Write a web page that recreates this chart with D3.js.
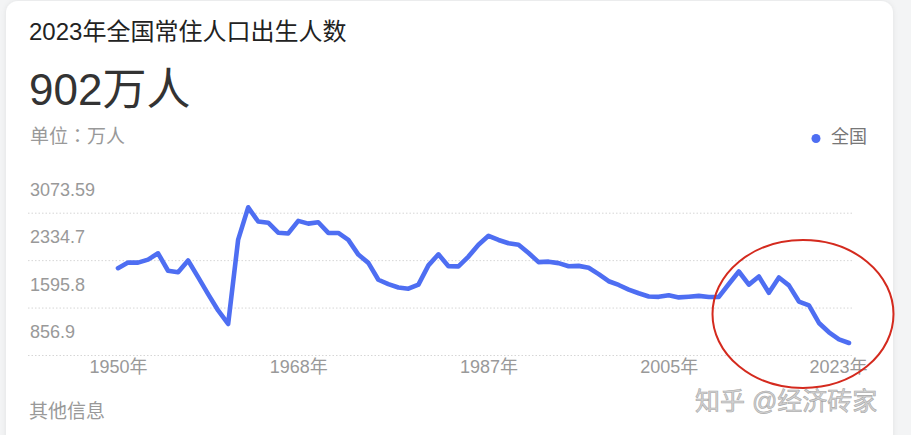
<!DOCTYPE html>
<html><head><meta charset="utf-8">
<script src="https://cdn.jsdelivr.net/npm/d3@7"></script>
<style>
html,body{margin:0;padding:0;background:#f3f4f5;overflow:hidden;}
svg{display:block;}
</style></head><body>
<svg id="chart" width="911" height="435"></svg>
<script>
// ---- text ----
const titleText = "2023年全国常住人口出生人数";
const headlineText = "902万人";
const unitParts = ["单位", "：", "万人"];
const seriesName = "全国";
const footerText = "其他信息";
const watermarkText = "知乎 @经济砖家";

// ---- data (births, 万人) ----
const years = [1950,1951,1952,1953,1954,1955,1956,1957,1958,1959,
  1960,1961,1962,1963,1964,1965,1966,1967,1968,1969,
  1970,1971,1972,1973,1974,1975,1976,1977,1978,1979,
  1980,1981,1982,1983,1984,1985,1986,1987,1988,1989,
  1990,1991,1992,1993,1994,1995,1996,1997,1998,1999,
  2000,2001,2002,2003,2004,2005,2006,2007,2008,2009,
  2010,2011,2012,2013,2014,2015,2016,2017,2018,2019,
  2020,2021,2022,2023];
const births = [2023,2107,2105,2151,2245,1984,1961,2138,1889,1635,
  1389,1187,2451,2934,2721,2704,2554,2543,2731,2690,
  2710,2551,2550,2447,2226,2102,1849,1783,1733,1715,
  1776,2064,2230,2052,2050,2196,2374,2508,2445,2396,
  2374,2250,2113,2120,2098,2052,2057,2028,1934,1827,
  1771,1702,1647,1599,1593,1617,1585,1595,1608,1591,
  1592,1785,1973,1776,1897,1655,1883,1765,1523,1465,
  1202,1062,956,902];

// ---- axis ticks ----
const yTickValues = [856.9, 1595.8, 2334.7, 3073.59];
const yTickLabels = ["856.9", "1595.8", "2334.7", "3073.59"];
const xTickValues = [1950, 1968, 1987, 2005, 2023];
const xTickLabels = ["1950年", "1968年", "1987年", "2005年", "2023年"];

// ---- layout ----
const FONT = "'Liberation Sans', Arial, 'Noto Sans CJK SC', sans-serif";
const BLUE = "#4e6ef2";
const svg = d3.select("#chart");

const defs = svg.append("defs");
const f = defs.append("filter").attr("id","shadow").attr("x","-5%").attr("y","-5%").attr("width","110%").attr("height","110%");
f.append("feDropShadow").attr("dx",0).attr("dy",0).attr("stdDeviation",2.5)
  .attr("flood-color","#000").attr("flood-opacity",0.08);

svg.append("rect").attr("x",6).attr("y",1).attr("width",887).attr("height",480)
  .attr("rx",12).attr("fill","#fff").attr("filter","url(#shadow)");

svg.append("text").attr("x",29).attr("y",40).attr("font-family",FONT)
  .attr("font-size",24).attr("fill","#222").text(titleText);
svg.append("text").attr("x",29).attr("y",105).attr("font-family",FONT)
  .attr("font-size",44).attr("fill","#333").text(headlineText);
const unit = svg.append("text").attr("x",30).attr("y",143).attr("font-family",FONT)
  .attr("font-size",19).attr("fill","#999");
unit.append("tspan").text(unitParts[0]);
unit.append("tspan").attr("font-family","'Noto Sans CJK TC', sans-serif").text(unitParts[1]);
unit.append("tspan").text(unitParts[2]);

// legend
svg.append("circle").attr("cx",816).attr("cy",138.5).attr("r",4.5).attr("fill",BLUE);
svg.append("text").attr("x",831).attr("y",143).attr("font-family",FONT)
  .attr("font-size",18).attr("fill","#777").text(seriesName);

// scales
const x = d3.scaleLinear().domain([years[0], years[years.length-1]]).range([118, 849]);
const yGrid = d3.scaleLinear().domain([yTickValues[0], yTickValues[3]]).range([355, 212.7]);
const yLine = d3.scaleLinear().domain([yTickValues[0], yTickValues[3]]).range([346, 198]);

// y axis / gridlines
const gridLeft = 28, gridRight = 853;
const yAxis = svg.append("g").attr("transform",`translate(${gridLeft},0)`)
  .call(d3.axisLeft(yGrid).tickValues(yTickValues)
    .tickFormat((d,i)=>yTickLabels[i]).tickSize(-(gridRight-gridLeft)));
yAxis.select(".domain").remove();
yAxis.selectAll(".tick line").attr("stroke","#d6d6d6").attr("stroke-width",1)
  .attr("stroke-dasharray","1.5,2");
yAxis.selectAll(".tick text").attr("x",2).attr("y",-17.5).attr("dy",0)
  .attr("text-anchor","start").attr("font-family",FONT).attr("font-size",18).attr("fill","#999");

// x axis
const xAxis = svg.append("g").attr("transform","translate(0,355)")
  .call(d3.axisBottom(x).tickValues(xTickValues).tickFormat((d,i)=>xTickLabels[i]).tickSize(0));
xAxis.select(".domain").remove();
const labelRightLimit = 867;
xAxis.selectAll(".tick text").attr("y",18).attr("dy",0)
  .attr("font-family",FONT).attr("font-size",18).attr("fill","#999")
  .each(function(d){
    const w = this.getComputedTextLength();
    const over = x(d) + w/2 - labelRightLimit;
    if (over > 0) d3.select(this).attr("x", -over);
  });

// line
const data = years.map((yr,i)=>({year:yr, v:births[i]}));
svg.append("path").datum(data)
  .attr("fill","none").attr("stroke",BLUE).attr("stroke-width",4.6)
  .attr("stroke-linejoin","round").attr("stroke-linecap","round")
  .attr("d", d3.line().x(d=>x(d.year)).y(d=>yLine(d.v)));

// footer
svg.append("text").attr("x",29).attr("y",418).attr("font-family",FONT)
  .attr("font-size",19).attr("fill","#999").text(footerText);

// annotation ellipse
svg.append("ellipse").attr("cx",803).attr("cy",314).attr("rx",90.5).attr("ry",74)
  .attr("fill","none").attr("stroke","#d42a1e").attr("stroke-width",2);

// watermark
svg.append("text").attr("x",695).attr("y",410).attr("font-family",FONT)
  .attr("font-size",25).attr("fill","#d2d2d2").attr("stroke","#a8a8a8").attr("stroke-width",0.6)
  .text(watermarkText);
</script>
</body></html>
